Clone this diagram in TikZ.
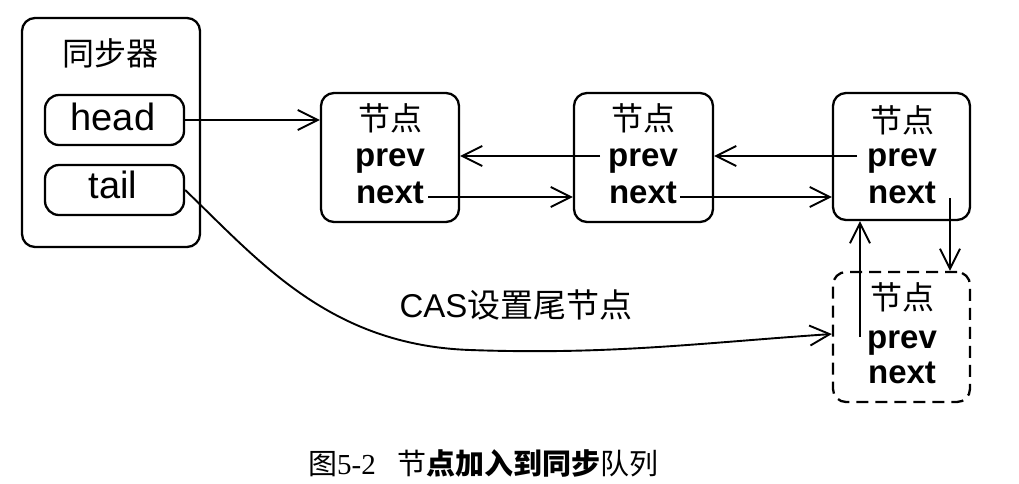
\documentclass[tikz,border=0pt]{standalone}
\usepackage{fontspec}
\setmainfont{Liberation Sans}
\newfontfamily\cjk{Noto Sans CJK SC}
\newfontfamily\serifnum{Liberation Serif}
\usetikzlibrary{arrows.meta,calc}
\begin{document}
\begin{tikzpicture}[x=1pt,y=-1pt,
  box/.style={draw, line width=2.3pt, rounded corners=13pt, inner sep=0pt},
  arr/.style={line width=1.9pt, -{Straight Barb[length=20pt,width=20pt,line width=1.9pt]}},
  lbl/.style={inner sep=0pt, font=\fontsize{33}{36}\selectfont\bfseries, anchor=base},
  ttl/.style={inner sep=0pt, font=\fontsize{32}{34}\selectfont\cjk},
  fld/.style={inner sep=0pt, font=\fontsize{38}{40}\selectfont, anchor=base},
]
\useasboundingbox[fill=white] (0,0) rectangle (1019,483);

% synchronizer
\node[box, minimum width=178pt, minimum height=229pt] (sync) at (111,132.5) {};
\node[ttl] (synct) at (110,53) {同步器};
\node[box, rounded corners=14pt, minimum width=139pt, minimum height=50pt] (head) at (114.5,120) {};
\node[fld] (headt) at (113,130) {head};
\node[box, rounded corners=14pt, minimum width=139pt, minimum height=50pt] (tail) at (114.5,190) {};
\node[fld] (tailt) at (113,198) {tail};

% nodes
\node[box, minimum width=138pt, minimum height=129pt] (n1) at (390,157.5) {};
\node[ttl] (n1t) at (390,118) {节点};
\node[lbl] (n1p) at (390,166) {prev};
\node[lbl] (n1n) at (390,203) {next};

\node[box, minimum width=139pt, minimum height=129pt] (n2) at (643.5,157.5) {};
\node[ttl] (n2t) at (643,118) {节点};
\node[lbl] (n2p) at (643,166) {prev};
\node[lbl] (n2n) at (643,203) {next};

\node[box, minimum width=137pt, minimum height=127pt] (n3) at (901.5,156.5) {};
\node[ttl] (n3t) at (902,120) {节点};
\node[lbl] (n3p) at (902,166) {prev};
\node[lbl] (n3n) at (902,203) {next};

\node[box, dash pattern=on 12pt off 7pt, minimum width=137pt, minimum height=130pt] (n4) at (901.5,337) {};
\node[ttl] (n4t) at (902,297) {节点};
\node[lbl] (n4p) at (902,348) {prev};
\node[lbl] (n4n) at (902,383) {next};

% connectors
\draw[arr] (head.east) -- (n1.west |- head.east);
\coordinate (n2ps) at (600,156);
\draw[arr] (n2ps) -- (n1.east |- n2ps);
\coordinate (n1ns) at (428,197);
\draw[arr] (n1ns) -- (n2.west |- n1ns);
\coordinate (n3ps) at (857,156);
\draw[arr] (n3ps) -- (n2.east |- n3ps);
\coordinate (n2ns) at (680,197);
\draw[arr] (n2ns) -- (n3.west |- n2ns);
\coordinate (n3ns) at (950,198);
\draw[arr] (n3ns) -- (n4.north -| n3ns);
\coordinate (n4ps) at (860,337);
\draw[arr] (n4ps) -- (n3.south -| n4ps);
\draw[arr] (tail.east) .. controls (260,262) and (330,345) .. (470,350)
  .. controls (610,355) and (700,343) .. ([yshift=3pt]n4.west);

\node[inner sep=0pt, font=\fontsize{33}{35}\selectfont] (cas) at (516,305) {CAS{\cjk 设置尾节点}};

% caption
\node[inner sep=0pt, anchor=west, font=\fontsize{29}{31}\selectfont] (cap) at (308,463)
  {{\cjk 图}{\serifnum 5-2}\hspace{22pt}{\cjk 节}{\cjk\bfseries 点加入到同步}{\cjk 队列}};
\end{tikzpicture}
\end{document}
